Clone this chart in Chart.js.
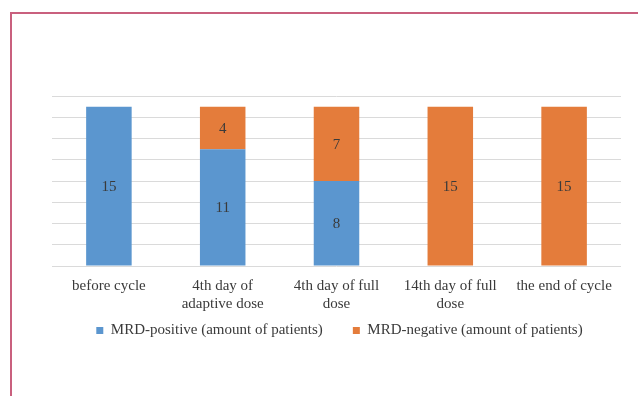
<!DOCTYPE html>
<html>
<head>
<meta charset="utf-8">
<script src="https://cdn.jsdelivr.net/npm/chart.js@4/dist/chart.umd.min.js"></script>
<style>
  html, body { margin: 0; padding: 0; background: #ffffff; }
  #wrap { position: relative; width: 638px; height: 396px; overflow: hidden; }
  #frame {
    position: absolute; left: 10px; top: 12px; width: 640px; height: 400px;
    border-left: 2px solid #c9607e; border-top: 2px solid #c9607e;
    pointer-events: none;
  }
  canvas { position: absolute; left: 0; top: 0; }
</style>
</head>
<body>
<div id="wrap">
  <canvas id="chart" width="638" height="396"></canvas>
  <div id="frame"></div>
</div>
<script>
// Time points of the treatment cycle
const categories = [
  ["before cycle"],
  ["4th day of", "adaptive dose"],
  ["4th day of full", "dose"],
  ["14th day of full", "dose"],
  ["the end of cycle"]
];
// Number of patients in each group
const mrdPositive = [15, 11, 8, 0, 0];
const mrdNegative = [0, 4, 7, 15, 15];
// Value axis range (gridlines every 2 patients)
const yMin = 0;
const yMax = 16;
const yStep = 2;

const textColor = "#3a3a3a";
const serif = "'Liberation Serif', 'Times New Roman', serif";

// Writes each segment's value in the middle of its bar segment
const segmentLabels = {
  id: "segmentLabels",
  afterDatasetsDraw(chart) {
    const ctx = chart.ctx;
    ctx.save();
    ctx.font = "15px " + serif;
    ctx.fillStyle = textColor;
    ctx.textAlign = "center";
    ctx.textBaseline = "middle";
    chart.data.datasets.forEach((ds, di) => {
      const meta = chart.getDatasetMeta(di);
      meta.data.forEach((bar, i) => {
        const v = ds.data[i];
        if (!v) return;
        const { x, y, base } = bar.getProps(["x", "y", "base"], true);
        ctx.fillText(String(v), x, (y + base) / 2 + 1);
      });
    });
    ctx.restore();
  }
};

// Pulls the legend up closer to the category labels (and a touch to the right)
const legendNudge = {
  id: "legendNudge",
  afterLayout(chart) {
    const lg = chart.legend;
    if (!lg) return;
    const dy = 23, dx = 3;
    lg.top -= dy; lg.bottom -= dy;
    lg.left += dx; lg.right += dx;
  }
};

new Chart(document.getElementById("chart"), {
  type: "bar",
  data: {
    labels: categories,
    datasets: [
      {
        label: "MRD-positive (amount of patients)",
        data: mrdPositive,
        backgroundColor: "#5b96cf",
        borderWidth: 0
      },
      {
        label: "MRD-negative (amount of patients)",
        data: mrdNegative,
        backgroundColor: "#e47c3b",
        borderWidth: 0
      }
    ]
  },
  options: {
    responsive: false,
    animation: false,
    devicePixelRatio: 1,
    layout: { padding: { left: 52, right: 17, top: 96, bottom: 25 } },
    datasets: { bar: { categoryPercentage: 1, barPercentage: 0.4 } },
    scales: {
      x: {
        stacked: true,
        grid: { display: false },
        border: { display: false },
        ticks: {
          color: textColor,
          font: { family: serif, size: 15 },
          padding: 3,
          maxRotation: 0,
          autoSkip: false
        }
      },
      y: {
        stacked: true,
        min: yMin,
        max: yMax,
        grid: { color: "#dadada", lineWidth: 1, drawTicks: false },
        border: { display: false },
        ticks: { display: false, stepSize: yStep }
      }
    },
    plugins: {
      legend: {
        position: "bottom",
        labels: {
          color: textColor,
          font: { family: serif, size: 15 },
          boxWidth: 7,
          boxHeight: 7,
          padding: 30
        }
      },
      tooltip: { enabled: false }
    }
  },
  plugins: [segmentLabels, legendNudge]
});
</script>
</body>
</html>
